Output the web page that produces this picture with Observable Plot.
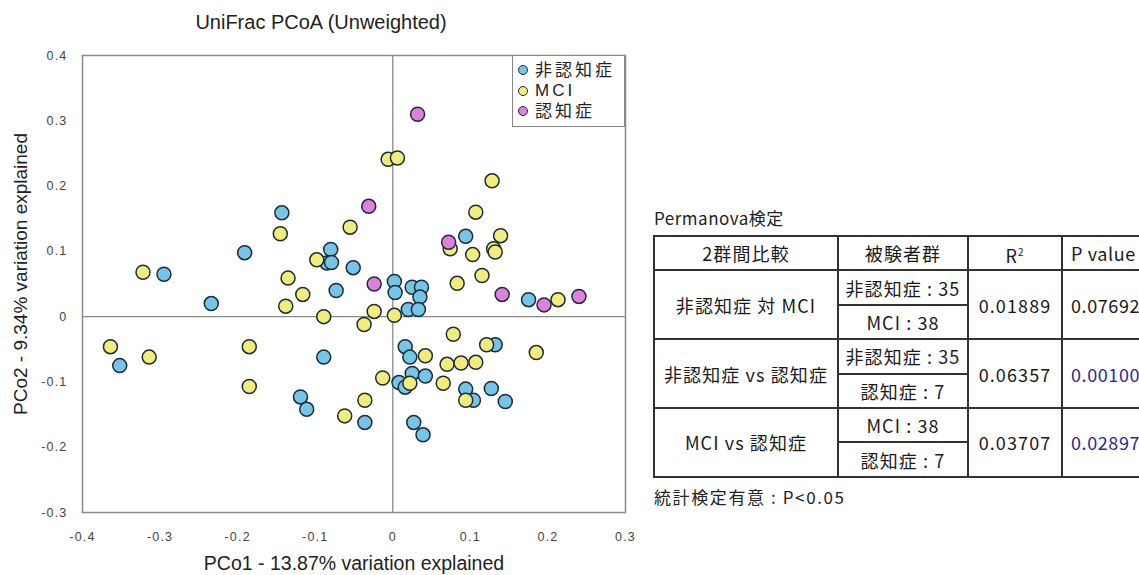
<!DOCTYPE html>
<html>
<head>
<meta charset="utf-8">
<script src="https://cdn.jsdelivr.net/npm/d3@7"></script>
<script src="https://cdn.jsdelivr.net/npm/@observablehq/plot@0.6"></script>
<style>
  html, body { margin: 0; padding: 0; background: #fff; overflow: hidden; }
  #wrap { position: relative; width: 1139px; height: 575px; overflow: hidden; font-family: "Liberation Sans", Arial, sans-serif; }
  #chart { position: absolute; left: 0; top: 0; }
  #chart g[aria-label="x-axis tick label"], #chart g[aria-label="y-axis tick label"] { letter-spacing: 1.2px; }
  #chart g[aria-label="chart title"] { letter-spacing: 1.3px; }
  #chart g[aria-label="x label"] { letter-spacing: 2px; }
  #chart g[aria-label="y label"] { letter-spacing: 0.5px; }
  #legend { position: absolute; left: 512px; top: 55px; width: 113px; height: 72px; border: 1px solid #888; background: #fff; box-sizing: border-box; padding-top: 4px; }
  .li { display: flex; align-items: center; height: 20.5px; font-family: "Liberation Sans", "Noto Sans CJK JP", sans-serif; font-size: 17px; letter-spacing: 3px; color: #222; }
  .li .tx { display: inline-block; line-height: 19px; height: 19px; }
  .li .mk { width: 8px; height: 8px; border-radius: 50%; border: 1.3px solid #1d2b36; margin: 0 7px 0 5px; flex: none; }
  #ttitle { position: absolute; left: 654px; top: 207px; line-height: 22px; font-family: "Noto Sans CJK JP", sans-serif; font-size: 17px; letter-spacing: 0.5px; color: #222; }
  #tnote { position: absolute; left: 654px; top: 485px; line-height: 24px; font-family: "Noto Sans CJK JP", sans-serif; font-size: 17px; letter-spacing: 1.6px; color: #222; }
  table.pm { position: absolute; left: 653px; top: 235px; width: 490px; border-collapse: collapse; font-family: "Noto Sans CJK JP", sans-serif; font-size: 18px; letter-spacing: 1.1px; color: #1a1a1a; table-layout: fixed; }
  table.pm td { border: 2px solid #333; text-align: center; padding: 0; height: 32.4px; line-height: 20px; white-space: nowrap; overflow: hidden; }
  table.pm td.sig { color: #2b2b8f; }
  table.pm td.last { text-align: left; padding-left: 8px; letter-spacing: 0.6px; }
</style>
</head>
<body>
<div id="wrap">
  <div id="chart"></div>
  <div id="legend"></div>
  <div id="ttitle">Permanova検定</div>
  <div id="table"></div>
  <div id="tnote">統計検定有意 : P&lt;0.05</div>
</div>
<script>
// ---- data ----
const groups = ["非認知症", "MCI", "認知症"];
const groupColors = ["#74c5e8", "#f1ed7b", "#de80dd"];

const nonDementiaX = [-0.295,-0.191,-0.143,-0.080,-0.085,-0.079,-0.051,-0.073,0.002,0.003,0.025,0.037,0.035,0.020,0.033,0.094,0.175,-0.234,-0.352,-0.089,-0.119,-0.111,-0.036,0.016,0.022,0.132,0.025,0.042,0.008,0.016,0.094,0.104,0.127,0.145,0.027,0.039];
const nonDementiaY = [0.065,0.098,0.159,0.103,0.082,0.083,0.075,0.040,0.054,0.037,0.045,0.045,0.030,0.011,0.011,0.123,0.026,0.020,-0.075,-0.062,-0.123,-0.142,-0.162,-0.046,-0.062,-0.043,-0.087,-0.091,-0.101,-0.108,-0.111,-0.128,-0.110,-0.130,-0.162,-0.181];

const mciX = [-0.322,-0.145,-0.055,-0.098,-0.135,-0.116,-0.138,-0.089,-0.024,-0.037,0.002,-0.006,0.006,0.128,0.107,0.074,0.139,0.130,0.132,0.103,0.115,0.083,0.213,-0.364,-0.314,-0.185,-0.185,-0.062,-0.036,-0.013,0.078,0.042,0.070,0.088,0.107,0.121,0.185,0.022,0.065,0.094];
const mciY = [0.068,0.127,0.137,0.087,0.059,0.034,0.016,0.000,0.008,-0.012,0.002,0.241,0.243,0.208,0.160,0.104,0.124,0.104,0.099,0.095,0.063,0.051,0.026,-0.046,-0.062,-0.046,-0.107,-0.152,-0.128,-0.094,-0.027,-0.060,-0.073,-0.071,-0.070,-0.043,-0.055,-0.102,-0.102,-0.128];

const dementiaX = [-0.031,-0.024,0.032,0.072,0.141,0.195,0.240];
const dementiaY = [0.169,0.050,0.310,0.114,0.034,0.018,0.031];

const xTicks = [-0.4,-0.3,-0.2,-0.1,0,0.1,0.2,0.3];
const yTicks = [-0.3,-0.2,-0.1,0,0.1,0.2,0.3,0.4];

const chartTitle = "UniFrac PCoA (Unweighted)";
const xLabel = "PCo1 - 13.87% variation explained";
const yLabel = "PCo2 - 9.34% variation explained";

// table data
const tableHeader = ["2群間比較", "被験者群", "R²", "P value"];
const comparisons = ["非認知症 対 MCI", "非認知症 vs 認知症", "MCI vs 認知症"];
const subjectsA = ["非認知症 : 35", "非認知症 : 35", "MCI : 38"];
const subjectsB = ["MCI : 38", "認知症 : 7", "認知症 : 7"];
const r2Values = ["0.01889", "0.06357", "0.03707"];
const pValues = ["0.07692", "0.00100", "0.02897"];
const significant = [false, true, true];

// ---- build ----
const seriesX = [nonDementiaX, mciX, dementiaX];
const seriesY = [nonDementiaY, mciY, dementiaY];
const points = [];
groups.forEach((g, gi) => {
  seriesX[gi].forEach((x, i) => points.push({group: g, x, y: seriesY[gi][i]}));
});

const fmt = d => d === 0 ? "0" : d.toFixed(1);

const plot = Plot.plot({
  width: 1139,
  height: 575,
  marginLeft: 82,
  marginRight: 514,
  marginTop: 55,
  marginBottom: 63,
  style: {fontFamily: "'Liberation Sans', Arial, sans-serif", background: "transparent"},
  x: {domain: [-0.4, 0.3]},
  y: {domain: [-0.3, 0.4]},
  color: {domain: groups, range: groupColors},
  marks: [
    Plot.ruleX([0], {stroke: "#8a8a8a", strokeWidth: 1.3}),
    Plot.ruleY([0], {stroke: "#8a8a8a", strokeWidth: 1.3}),
    Plot.frame({stroke: "#8a8a8a", strokeWidth: 1.5}),
    Plot.axisX(xTicks, {tickSize: 0, tickPadding: 20, tickFormat: fmt, label: null, fontSize: 12.5, color: "#444"}),
    Plot.axisY(yTicks, {tickSize: 0, tickPadding: 15, tickFormat: fmt, label: null, fontSize: 12.5, color: "#444"}),
    Plot.dot(points, {x: "x", y: "y", fill: "group", r: 7, stroke: "#1d2b36", strokeWidth: 1.5}),
    Plot.text([chartTitle], {frameAnchor: "top", lineAnchor: "middle", dy: -33, dx: -33, fontSize: 20, fill: "#222", ariaLabel: "chart title"}),
    Plot.text([xLabel], {frameAnchor: "bottom", lineAnchor: "middle", dy: 51, dx: 0, fontSize: 19.5, fill: "#222", ariaLabel: "x label"}),
    Plot.text([yLabel], {frameAnchor: "left", textAnchor: "middle", lineAnchor: "middle", dx: -62, dy: -10, rotate: -90, fontSize: 19, fill: "#222", ariaLabel: "y label"})
  ]
});
document.getElementById("chart").appendChild(plot);

// legend
const legend = document.getElementById("legend");
groups.forEach((g, i) => {
  const row = document.createElement("div");
  row.className = "li";
  row.innerHTML = `<span class="mk" style="background:${groupColors[i]}"></span><span class="tx">${g}</span>`;
  legend.appendChild(row);
});

// table
const colW = [184, 130, 94, 82];
let html = `<table class="pm"><colgroup>${colW.map(w => `<col style="width:${w}px">`).join("")}</colgroup>`;
html += `<tr>${tableHeader.map((h, j) => h === "R²" ? `<td>R<sup style="font-size:10px">2</sup></td>` : `<td class="${j === 3 ? "last" : ""}">${h}</td>`).join("")}</tr>`;
comparisons.forEach((c, i) => {
  html += `<tr><td rowspan="2">${c}</td><td>${subjectsA[i]}</td><td rowspan="2">${r2Values[i]}</td><td rowspan="2" class="last ${significant[i] ? "sig" : ""}">${pValues[i]}</td></tr>`;
  html += `<tr><td>${subjectsB[i]}</td></tr>`;
});
html += `</table>`;
document.getElementById("table").innerHTML = html;
</script>
</body>
</html>
